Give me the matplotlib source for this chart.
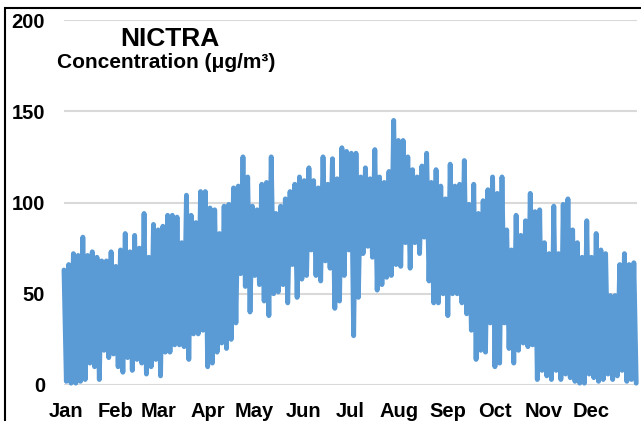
import numpy as np
import matplotlib.pyplot as plt
from matplotlib.patches import Rectangle

plt.rcParams['font.family'] = ['Liberation Sans', 'DejaVu Sans']
plt.rcParams['font.weight'] = 'bold'

# valori letti a passo di 3 giorni: massimo e minimo del periodo
hi = [63, 66, 72, 71, 81, 71, 73, 70, 68, 68, 73, 65, 74, 83, 73, 82, 75, 94, 70, 88,
      85, 87, 93, 93, 92, 78, 104, 93, 89, 106, 106, 97, 96, 83, 98, 99, 108, 109, 125, 114,
      98, 96, 110, 111, 125, 94, 98, 102, 106, 110, 114, 112, 119, 112, 108, 125, 110, 124, 113, 130,
      128, 127, 127, 114, 119, 113, 129, 114, 111, 117, 145, 134, 134, 125, 118, 114, 120, 127, 111, 118,
      109, 102, 121, 109, 110, 123, 99, 110, 94, 101, 107, 114, 105, 114, 85, 74, 93, 82, 90, 105,
      95, 96, 78, 72, 98, 72, 99, 102, 85, 78, 70, 90, 70, 83, 74, 72, 49, 49, 66, 72,
      66, 67]
lo = [2, 1, 1, 2, 3, 12, 10, 3, 19, 15, 17, 10, 7, 15, 8, 14, 12, 6, 10, 14,
      5, 18, 18, 22, 22, 21, 14, 28, 28, 30, 10, 12, 18, 23, 20, 25, 34, 61, 54, 40,
      60, 55, 46, 38, 50, 51, 55, 45, 66, 48, 58, 60, 74, 60, 57, 68, 64, 42, 46, 60,
      74, 27, 48, 72, 76, 70, 52, 55, 59, 60, 66, 65, 78, 64, 78, 72, 81, 57, 45, 45,
      50, 38, 50, 50, 45, 39, 30, 14, 19, 18, 34, 10, 12, 34, 20, 12, 19, 23, 21, 22,
      3, 8, 5, 3, 8, 3, 6, 4, 2, 1, 1, 6, 4, 2, 3, 6, 3, 5, 8, 2,
      3, 1]
mesi = ['Jan', 'Feb', 'Mar', 'Apr', 'May', 'Jun', 'Jul', 'Aug', 'Sep', 'Oct', 'Nov', 'Dec']
inizio_mese = [0, 31, 59, 90, 120, 151, 181, 212, 243, 273, 304, 334]

giorni = np.arange(len(hi)) * 3.0
x = np.empty(2 * len(hi))
y = np.empty(2 * len(hi))
x[0::2] = giorni
x[1::2] = giorni + 1.5
y[0::2] = hi
y[1::2] = lo

fig = plt.figure(figsize=(6.41, 4.21), dpi=100)
ax = fig.add_axes([64/641, 1 - 385/421, 573/641, 365/421])

ax.plot(x, y, color='#5b9bd5', lw=3.5, solid_capstyle='round',
        solid_joinstyle='round', clip_on=False, zorder=3)

ax.set_xlim(0, 365)
ax.set_ylim(0, 200)
ax.set_yticks([0, 50, 100, 150, 200])
ax.set_xticks(np.array(inizio_mese) + 1.5)
ax.set_xticklabels(mesi)
ax.tick_params(axis='both', length=0, labelsize=14.5)
ax.tick_params(axis='y', pad=13.5)
ax.tick_params(axis='x', pad=12.5)
for lab in ax.get_xticklabels() + ax.get_yticklabels():
    lab.set_fontweight('bold')
ax.grid(axis='y', color='#d9d9d9', lw=1.5)
ax.set_axisbelow(True)
for s in ax.spines.values():
    s.set_visible(False)

fig.text(170/641, 1 - 45.7/421, 'NICTRA', ha='center', va='baseline',
         fontsize=19, fontweight='bold')
fig.text(166/641, 1 - 68/421, 'Concentration (μg/m³)', ha='center', va='baseline',
         fontsize=15, fontweight='bold')

# cornice del grafico (tagliata a destra e in basso)
fig.patches.append(Rectangle((5/641, -0.1), 1.2, 1.1 - 8/421, transform=fig.transFigure,
                             fill=False, edgecolor='black', lw=1.5))

fig.savefig('out.png', dpi=100)
